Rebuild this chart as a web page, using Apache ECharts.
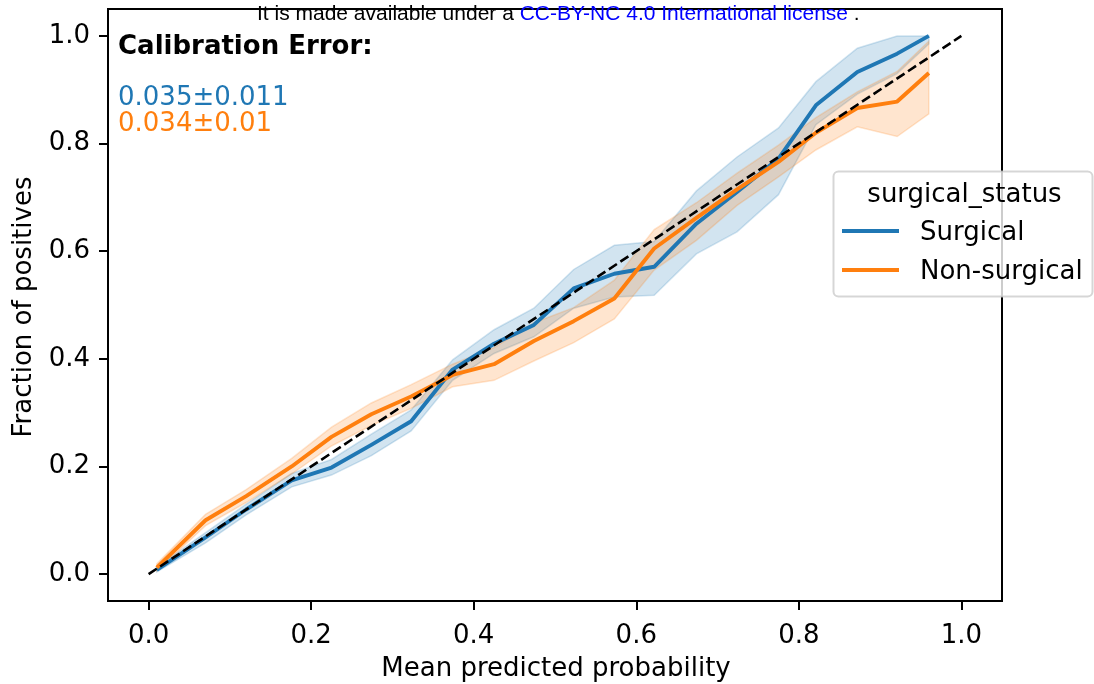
<!DOCTYPE html>
<html>
<head>
<meta charset="utf-8">
<script src="https://cdn.jsdelivr.net/npm/echarts@6/dist/echarts.min.js"></script>
<style>
  html, body { margin: 0; padding: 0; background: #fff; }
  #chart { width: 1094px; height: 684px; }
</style>
</head>
<body>
<div id="chart"></div>
<script>
// Mean predicted probability of each bin
const binCenters = [0.01, 0.07, 0.12, 0.176, 0.225, 0.274, 0.323, 0.374, 0.425, 0.474,
                    0.523, 0.573, 0.622, 0.674, 0.724, 0.775, 0.821, 0.872, 0.921, 0.96];

// Surgical: fraction of positives and its confidence band
const surgicalMean = [0.008, 0.068, 0.12, 0.174, 0.198, 0.24, 0.284, 0.38, 0.428, 0.463,
                      0.531, 0.558, 0.571, 0.651, 0.71, 0.772, 0.871, 0.933, 0.967, 1.0];
const surgicalLow  = [0.004, 0.058, 0.11, 0.162, 0.184, 0.22, 0.266, 0.36, 0.41, 0.441,
                      0.494, 0.515, 0.518, 0.595, 0.636, 0.705, 0.835, 0.892, 0.93, 0.985];
const surgicalHigh = [0.013, 0.077, 0.13, 0.187, 0.213, 0.26, 0.305, 0.398, 0.454, 0.494,
                      0.566, 0.611, 0.618, 0.712, 0.775, 0.829, 0.915, 0.977, 1.0, 1.0];

// Non-surgical: fraction of positives and its confidence band
const nonSurgicalMean = [0.012, 0.1, 0.145, 0.2, 0.255, 0.297, 0.33, 0.37, 0.39, 0.433,
                         0.47, 0.512, 0.605, 0.662, 0.715, 0.766, 0.82, 0.866, 0.878, 0.931];
const nonSurgicalLow  = [0.006, 0.09, 0.133, 0.186, 0.238, 0.276, 0.308, 0.348, 0.36, 0.396,
                         0.43, 0.474, 0.565, 0.62, 0.685, 0.738, 0.788, 0.831, 0.813, 0.855];
const nonSurgicalHigh = [0.019, 0.111, 0.157, 0.215, 0.273, 0.318, 0.352, 0.39, 0.421, 0.467,
                         0.495, 0.546, 0.64, 0.69, 0.745, 0.797, 0.848, 0.896, 0.934, 0.99];

// Perfect calibration reference
const diagonal = [[0, 0], [1, 1]];

const tickValues = [0, 0.2, 0.4, 0.6, 0.8, 1.0];
const groupNames = ['Surgical', 'Non-surgical'];
const legendTitle = 'surgical_status';
const errorTitle = 'Calibration Error:';
const errorTexts = ['0.035\u00b10.011', '0.034\u00b10.01'];

const BLUE = '#1f77b4';
const ORANGE = '#ff7f0e';
const FONT = "'DejaVu Sans', sans-serif";

function pairs(xs, ys) { return xs.map((x, i) => [x, ys[i]]); }

// Filled band between lower and upper bounds, drawn as one polygon
function bandSeries(xs, lo, hi, rgb) {
  return {
    type: 'custom',
    data: xs.map((x, i) => [x, lo[i], hi[i]]),
    encode: { x: 0, y: [1, 2] },
    silent: true,
    renderItem: function (params, api) {
      if (params.dataIndexInside !== 0) return null;
      const pts = [];
      for (let i = 0; i < xs.length; i++) pts.push(api.coord([xs[i], hi[i]]));
      for (let i = xs.length - 1; i >= 0; i--) pts.push(api.coord([xs[i], lo[i]]));
      return {
        type: 'polygon',
        shape: { points: pts },
        style: { fill: 'rgba(' + rgb + ',0.2)', stroke: 'rgba(' + rgb + ',0.2)', lineWidth: 1.5 }
      };
    }
  };
}

function meanSeries(xs, ys, color) {
  return {
    type: 'line',
    data: pairs(xs, ys),
    showSymbol: false,
    silent: true,
    lineStyle: { color: color, width: 3.9, join: 'round', cap: 'butt' }
  };
}

const chart = echarts.init(document.getElementById('chart'), null, { renderer: 'canvas' });

function valueAxis(labelPadding, margin) {
  return {
    type: 'value',
    min: -0.05,
    max: 1.05,
    splitLine: { show: false },
    axisLine: { show: false, onZero: false },
    axisTick: { show: true, length: 9, customValues: tickValues, lineStyle: { color: '#000', width: 2 } },
    axisLabel: {
      customValues: tickValues,
      formatter: v => v.toFixed(1),
      color: '#000',
      fontFamily: FONT,
      fontSize: 26,
      margin: margin,
      padding: labelPadding
    }
  };
}

chart.setOption({
  animation: false,
  backgroundColor: '#fff',
  grid: { left: 108, right: 92, top: 9, bottom: 83, show: true, borderColor: '#000', borderWidth: 2, backgroundColor: 'transparent' },
  xAxis: valueAxis([0, 0, 0, 0], 22),
  yAxis: valueAxis([6, 0, 0, 0], 18),
  series: [
    bandSeries(binCenters, surgicalLow, surgicalHigh, '31,119,180'),
    meanSeries(binCenters, surgicalMean, BLUE),
    bandSeries(binCenters, nonSurgicalLow, nonSurgicalHigh, '255,127,14'),
    meanSeries(binCenters, nonSurgicalMean, ORANGE),
    {
      type: 'line',
      data: diagonal,
      showSymbol: false,
      silent: true,
      lineStyle: { color: '#000', width: 2.6, type: [9.6, 4.2] }
    }
  ],
  graphic: [
    // page header line
    {
      type: 'text', left: 257, top: 4, z: 200,
      style: {
        text: '{k|It is made available under a }{b|CC-BY-NC 4.0 International license}{k| .}',
        rich: {
          k: { fill: '#000', fontFamily: "'Liberation Sans', Arial, sans-serif", fontSize: 21 },
          b: { fill: '#0000ff', fontFamily: "'Liberation Sans', Arial, sans-serif", fontSize: 21 }
        }
      }
    },
    // calibration error annotation
    { type: 'text', x: 118, y: 47.5, z: 50, style: { text: errorTitle, fill: '#000', fontFamily: FONT, fontWeight: 'bold', fontSize: 26, verticalAlign: 'middle' } },
    { type: 'text', x: 118, y: 98.5, z: 50, style: { text: errorTexts[0], fill: BLUE, fontFamily: FONT, fontSize: 26, verticalAlign: 'middle' } },
    { type: 'text', x: 118, y: 124, z: 50, style: { text: errorTexts[1], fill: ORANGE, fontFamily: FONT, fontSize: 26, verticalAlign: 'middle' } },
    // axis titles
    { type: 'text', x: 556, y: 669, z: 50, style: { text: 'Mean predicted probability', fill: '#000', fontFamily: FONT, fontSize: 26, align: 'center', verticalAlign: 'middle' } },
    { type: 'text', x: 24, y: 307, rotation: Math.PI / 2, z: 50, style: { text: 'Fraction of positives', fill: '#000', fontFamily: FONT, fontSize: 26, align: 'center', verticalAlign: 'middle' } },
    // legend
    {
      type: 'group', z: 100,
      children: [
        { type: 'rect', shape: { x: 833.5, y: 171.5, width: 259, height: 125, r: 5 },
          style: { fill: 'rgba(255,255,255,0.8)', stroke: 'rgba(204,204,204,0.8)', lineWidth: 2 }, z: 100 },
        { type: 'text', x: 964.5, y: 195, z: 101,
          style: { text: legendTitle, fill: '#000', fontFamily: FONT, fontSize: 26, align: 'center', verticalAlign: 'middle' } },
        { type: 'line', shape: { x1: 842, y1: 231, x2: 899, y2: 231 }, z: 101,
          style: { stroke: BLUE, lineWidth: 3.9 } },
        { type: 'text', x: 920, y: 233.5, z: 101,
          style: { text: groupNames[0], fill: '#000', fontFamily: FONT, fontSize: 26, verticalAlign: 'middle' } },
        { type: 'line', shape: { x1: 842, y1: 270, x2: 899, y2: 270 }, z: 101,
          style: { stroke: ORANGE, lineWidth: 3.9 } },
        { type: 'text', x: 920, y: 272.5, z: 101,
          style: { text: groupNames[1], fill: '#000', fontFamily: FONT, fontSize: 26, verticalAlign: 'middle' } }
      ]
    }
  ]
});
</script>
</body>
</html>
